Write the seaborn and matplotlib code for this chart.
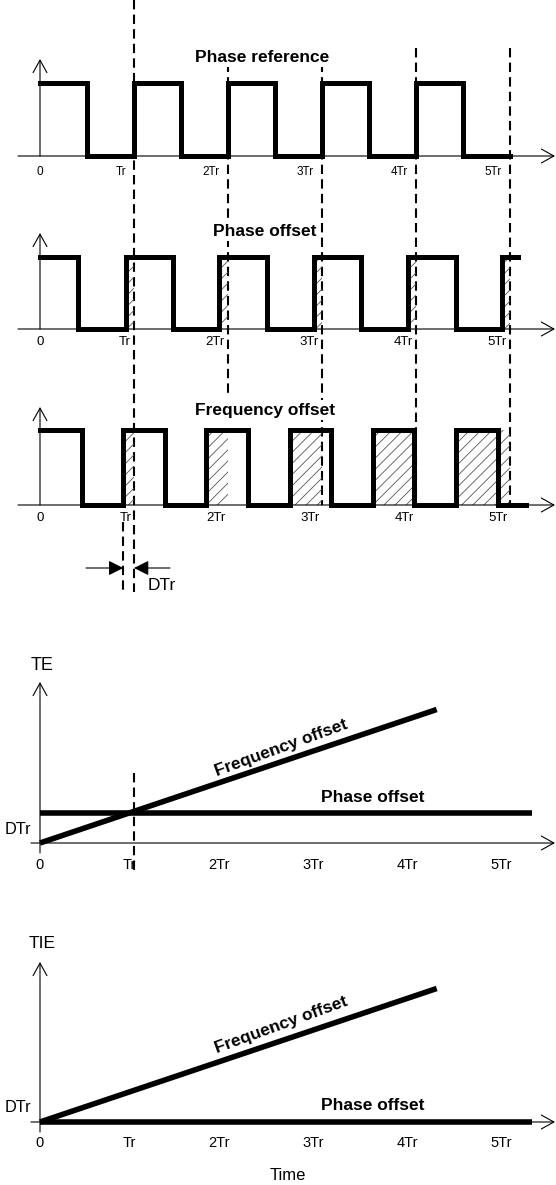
import matplotlib
matplotlib.use("Agg")
import matplotlib.pyplot as plt
import seaborn as sns
import pandas as pd

# time axis in units of Tr
tick_pos = [0, 1, 2, 3, 4, 5]
tick_labels = ["0", "Tr", "2Tr", "3Tr", "4Tr", "5Tr"]

# square waves: transition times (Tr) and the level of each segment
ref_edges = [0, 0.5, 1.0, 1.5, 2.0, 2.5, 3.0, 3.5, 4.0, 4.5, 5.0]
ref_levels = [1, 0, 1, 0, 1, 0, 1, 0, 1, 0]
phase_edges = [0, 0.40, 0.91, 1.41, 1.90, 2.41, 2.91, 3.42, 3.92, 4.43, 4.92, 5.09]
phase_levels = [1, 0, 1, 0, 1, 0, 1, 0, 1, 0, 1]
freq_edges = [0, 0.443, 0.886, 1.33, 1.77, 2.21, 2.66, 3.10, 3.54, 3.98, 4.43, 4.87, 5.17]
freq_levels = [1, 0, 1, 0, 1, 0, 1, 0, 1, 0, 1, 0]

# time error curves, in units of DTr
te_freq_t = [0, 4.22]
te_freq = [0, 4.45]
te_phase_t = [0, 5.23]
te_phase = [1, 1]
tie_freq_t = [0, 4.22]
tie_freq = [0, 4.45]
tie_phase_t = [0, 5.23]
tie_phase = [0, 0]

dtr_marks = [0.886, 1.0]  # first rising edge of frequency offset vs Tr

sns.set_theme(style="white")
plt.rcParams["font.family"] = ["Liberation Sans", "DejaVu Sans"]
plt.rcParams["text.color"] = "black"
plt.rcParams["hatch.linewidth"] = 0.6

W, H = 556, 1185
X0, TRPX = 40, 94
XLIM = (-X0 / TRPX, (W - X0) / TRPX)
LW_SIG = 3.6
DASH = (0, (4.5, 2.5))

fig = plt.figure(figsize=(W / 100, H / 100), dpi=100)

# overlay: x in Tr, y in pixels from the top (used for dashed guides and text)
ov = fig.add_axes([0, 0, 1, 1])
ov.set_xlim(XLIM)
ov.set_ylim(H, 0)
ov.set_axis_off()


def px(x):
    return (x - X0) / TRPX


def panel(top, bot, base, unit):
    ax = fig.add_axes([0, 1 - bot / H, 1, (bot - top) / H])
    ax.set_xlim(XLIM)
    ax.set_ylim((base - bot) / unit, (base - top) / unit)
    ax.set_axis_off()
    return ax


def arrow(ax, start, end, style="->,head_length=0.9,head_width=0.5"):
    ax.annotate("", xy=end, xytext=start, annotation_clip=False,
                arrowprops=dict(arrowstyle=style, lw=0.8, color="black",
                                shrinkA=0, shrinkB=0, mutation_scale=10))


def axes_lines(ax, x_start, y_top, y_start=0):
    arrow(ax, (x_start, 0), (px(555), 0))
    arrow(ax, (0, y_start), (0, y_top))


def draw_wave(ax, edges, levels):
    df = pd.DataFrame({"t": edges, "v": levels + [levels[-1]]})
    sns.lineplot(data=df, x="t", y="v", ax=ax, color="black", lw=LW_SIG,
                 estimator=None, sort=False, drawstyle="steps-post",
                 solid_capstyle="projecting", solid_joinstyle="miter")


def draw_hatch(ax, edges, levels):
    rising = [e for e, l in zip(edges[1:], levels[1:]) if l == 1]
    for r, t in zip(rising, tick_pos[1:]):
        ax.fill_between([r, t], 0, 1, hatch="///", facecolor="none",
                        edgecolor="#555555", linewidth=0, zorder=1)


def tick_text(y, size, dx):
    for t, lab in zip(tick_pos, tick_labels):
        if t == 0:
            ov.text(t, y, lab, ha="center", va="center", fontsize=size)
        else:
            ov.text(t + dx / TRPX, y, lab, ha="right", va="center", fontsize=size)


# dashed guides across the three waveforms
guides_top = [0, 48, 48, 48, 48]
guides_bot = [592, 395, 505, 505, 505]
ov.vlines(tick_pos[1:], guides_top, guides_bot, colors="black", lw=1.5,
          linestyles=[DASH])
ov.vlines([dtr_marks[0]], 522, 592, colors="black", lw=1.5, linestyles=[DASH])
ov.vlines([tick_pos[1]], 773, 870, colors="black", lw=1.5, linestyles=[DASH])

# waveform panels
title_kw = dict(ha="center", va="center", fontsize=12.5, fontweight="bold",
                bbox=dict(facecolor="white", edgecolor="none", pad=1.5), zorder=5)

ax_ref = panel(40, 190, 156, 73)
axes_lines(ax_ref, px(18), 97 / 73)
draw_wave(ax_ref, ref_edges, ref_levels)
ov.text(px(262), 57, "Phase reference", **title_kw)
tick_text(172, 8.5, -8)

ax_ph = panel(215, 360, 329, 72)
axes_lines(ax_ph, px(18), 96 / 72)
draw_hatch(ax_ph, phase_edges, phase_levels)
draw_wave(ax_ph, phase_edges, phase_levels)
ov.text(px(265), 231, "Phase offset", **title_kw)
tick_text(342, 9.5, -3)

ax_fr = panel(395, 535, 505, 75)
axes_lines(ax_fr, px(18), 98 / 75)
draw_hatch(ax_fr, freq_edges, freq_levels)
draw_wave(ax_fr, freq_edges, freq_levels)
ov.text(px(265), 410, "Frequency offset", **title_kw)
tick_text(518, 9.5, -2)

# DTr marker
arrow(ov, (px(86), 568), (dtr_marks[0], 568), "-|>,head_length=0.9,head_width=0.45")
arrow(ov, (px(170), 568), (dtr_marks[1], 568), "-|>,head_length=0.9,head_width=0.45")
ov.text(px(162), 586, "DTr", ha="center", va="center", fontsize=12.5)

# TE panel
ax_te = panel(640, 900, 843, 30)
axes_lines(ax_te, px(31), 161 / 30, -10 / 30)
for tt, vv in [(te_phase_t, te_phase), (te_freq_t, te_freq)]:
    sns.lineplot(x=tt, y=vv, ax=ax_te, color="black", lw=4, estimator=None,
                 sort=False, solid_capstyle="butt")
ov.text(px(42), 665, "TE", ha="center", va="center", fontsize=13)
ov.text(px(18), 829, "DTr", ha="center", va="center", fontsize=11.7)
ov.text(px(373), 798, "Phase offset", ha="center", va="center", fontsize=12.5,
        fontweight="bold")
ov.text(px(281), 748, "Frequency offset", ha="center", va="center", fontsize=12.5,
        fontweight="bold", rotation=20, rotation_mode="anchor")
tick_text(865, 10.5, 2)

# TIE panel
ax_tie = panel(900, 1185, 1122, 30)
axes_lines(ax_tie, px(31), 160 / 30, -10 / 30)
for tt, vv in [(tie_phase_t, tie_phase), (tie_freq_t, tie_freq)]:
    sns.lineplot(x=tt, y=vv, ax=ax_tie, color="black", lw=4, estimator=None,
                 sort=False, solid_capstyle="butt")
ov.text(px(42), 943, "TIE", ha="center", va="center", fontsize=12.5)
ov.text(px(18), 1108, "DTr", ha="center", va="center", fontsize=11.7)
ov.text(px(373), 1106, "Phase offset", ha="center", va="center", fontsize=12.5,
        fontweight="bold")
ov.text(px(281), 1025, "Frequency offset", ha="center", va="center", fontsize=12.5,
        fontweight="bold", rotation=20, rotation_mode="anchor")
tick_text(1143, 10.5, 2)
ov.text(px(288), 1175, "Time", ha="center", va="center", fontsize=12)

fig.savefig("out.png", dpi=100)
